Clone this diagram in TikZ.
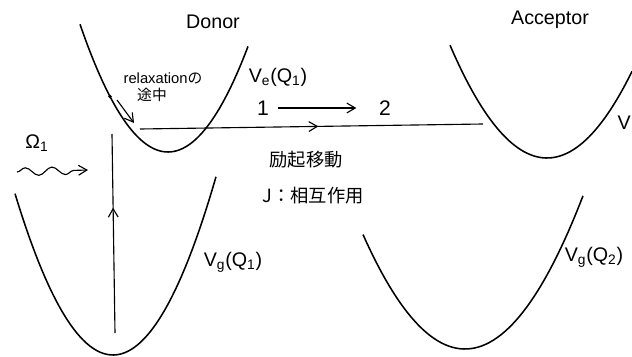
\documentclass[tikz,border=0pt]{standalone}
\usepackage{fontspec}
\setmainfont{Liberation Sans}
\newfontfamily\jpfont{Noto Sans CJK JP}
\usetikzlibrary{arrows.meta, decorations.pathmorphing, decorations.markings}

\begin{document}
\begin{tikzpicture}[
    x=0.025cm, y=-0.025cm,
    >={Straight Barb[length=6pt, width=7pt]},
    curve/.style={line width=1.1pt},
    label/.style={font=\fontsize{14}{16}\selectfont, inner sep=1pt},
    jp/.style={font=\jpfont\fontsize{13}{15}\selectfont, inner sep=1pt},
    midarrow/.style={postaction={decorate}, decoration={markings, mark=at position #1 with {\arrow{>}}}}
]

\useasboundingbox (0,0) rectangle (632,356);

% potential curves
\draw[curve] plot[domain=80:248, samples=60] (\x, {152-0.0165*(\x-168)*(\x-168)});
\draw[curve] plot[domain=15:216, samples=60] (\x, {355-0.0168*(\x-113)*(\x-113)});
\draw[curve] plot[domain=450:632, samples=60] (\x, {158-0.012*(\x-547)*(\x-547)});
\draw[curve] plot[domain=363:583, samples=60] (\x, {349-0.011*(\x-465)*(\x-465)});

\node[label] (donor) at (213,22) {Donor};
\node[label] (acceptor) at (550,20) {Acceptor};

\node[label, font=\fontsize{10.5}{12}\selectfont] (relax) at (163,78) {relaxation{\jpfont の}};
\node[jp, font=\jpfont\fontsize{10.5}{12}\selectfont] (tochu) at (152,95) {途中};
\node[label] (ve1) at (278,77) {V\textsubscript{e}(Q\textsubscript{1})};
\node[label, inner sep=0pt, anchor=east] (ve2) at (631,123) {V};

\node[label, font=\fontsize{15}{17}\selectfont] (one) at (263,108) {1};
\node[label, font=\fontsize{15}{17}\selectfont] (two) at (385,108) {2};
\draw[->, thick, shorten <=5pt, shorten >=15pt] (one) -- (two);

\node[jp] (reiki) at (306,160) {励起移動};
\node[jp] (jint) at (313,196) {J：相互作用};

\node[label] (omega) at (37,143) {Ω\textsubscript{1}};
\node[label] (vg1) at (233,262) {V\textsubscript{g}(Q\textsubscript{1})};
\node[label] (vg2) at (594,257) {V\textsubscript{g}(Q\textsubscript{2})};

% transitions
\coordinate (wstart) at (17,172);
\coordinate (wend) at (88,170);
\draw[->, thick, decorate, decoration={snake, amplitude=2.8pt, segment length=19pt, post length=5pt}] (wstart) -- (wend);

\coordinate (vbot) at (115,333);
\coordinate (vtop) at (112,134);
\draw[thick, midarrow=0.63] (vbot) -- (vtop);

\coordinate (hstart) at (140,129);
\coordinate (hend) at (483,124);
\draw[thick, midarrow=0.52] (hstart) -- (hend);

\fill (110,96.5) circle (1.4pt);
\coordinate (rstart) at (117,100);
\coordinate (rend) at (134,123);
\draw[->, thick] (rstart) -- (rend);

\end{tikzpicture}
\end{document}
